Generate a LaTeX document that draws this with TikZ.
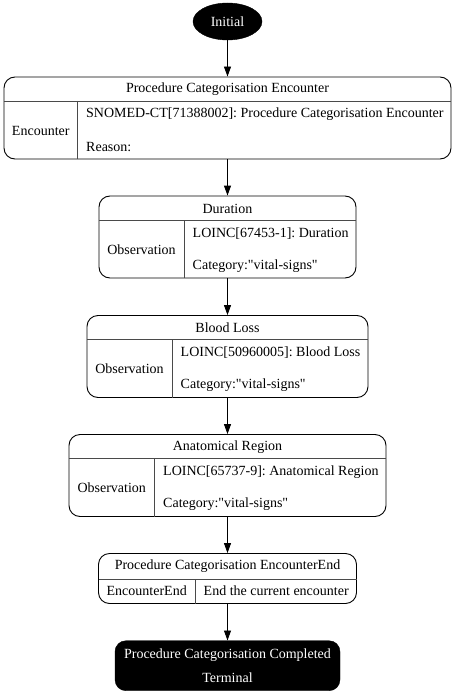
\documentclass[tikz,border=0pt]{standalone}
\usepackage{fontspec}
\setmainfont{Liberation Serif}
\usetikzlibrary{arrows.meta,shapes.geometric}
\definecolor{ink}{HTML}{000000}
\definecolor{rule}{HTML}{4A4A4A}
\frenchspacing
\tikzset{
  recframe/.style={draw=ink, line width=0.9pt, rounded corners=11bp, fill=white,
    inner sep=0pt, minimum height=82bp},
  cellrule/.style={draw=rule, line width=0.9pt},
  label/.style={inner sep=0pt, text=ink, font=\fontsize{14bp}{16bp}\selectfont},
  startnode/.style={ellipse, fill=ink, draw=ink, text=white, inner sep=0pt,
    minimum width=69bp, minimum height=37bp, font=\fontsize{14bp}{16bp}\selectfont},
  endnode/.style={rounded corners=11bp, fill=ink, draw=ink, text=white, align=center,
    inner sep=0pt, minimum width=225bp, minimum height=50bp,
    font=\fontsize{14bp}{24bp}\selectfont},
  edge/.style={-{Triangle[length=10bp,width=7bp]}, draw=ink, line width=0.9pt}
}
\newcommand{\vitalsigns}{Category:\textquotedbl vital-signs\textquotedbl}
% record box: name, left, right, top, divider, title, kind, row one, row two
\newcommand{\recbox}[9]{%
  \node[recframe, minimum width={#3bp-#2bp}] (#1) at ({(#2+#3)/2},#4+41) {};
  \draw[cellrule] (#2,#4+24) -- (#3,#4+24);
  \draw[cellrule] (#5,#4+24) -- (#5,#4+82);
  \node[label] (#1-title) at ({(#2+#3)/2},#4+12.5) {#6};
  \node[label] (#1-kind) at ({(#2+#5)/2},#4+53.5) {#7};
  \node[label, anchor=west] (#1-code) at (#5+8.5,#4+37.5) {#8};
  \node[label, anchor=west] (#1-info) at (#5+8.5,#4+70) {#9};
}

\begin{document}
\begin{tikzpicture}[x=1bp,y=-1bp]
  \useasboundingbox[fill=white] (0,0) rectangle (455,695);

  \node[startnode] (initial) at (227.5,21.5) {Initial};

  % Encounter and observations.
  \recbox{encounter}{4}{451}{77}{77.5}{Procedure Categorisation Encounter}{Encounter}
    {SNOMED-CT[71388002]: Procedure Categorisation Encounter}{Reason:}
  \recbox{duration}{99}{356}{196}{184}{Duration}{Observation}
    {LOINC[67453-1]: Duration}{\vitalsigns}
  \recbox{bloodloss}{87}{368}{315.5}{172}{Blood Loss}{Observation}
    {LOINC[50960005]: Blood Loss}{\vitalsigns}
  \recbox{region}{69}{386}{434.5}{154.5}{Anatomical Region}{Observation}
    {LOINC[65737-9]: Anatomical Region}{\vitalsigns}

  % Encounter end.
  \node[recframe, minimum width=258bp, minimum height=50bp] (encend) at (227.5,578.5) {};
  \draw[cellrule] (98.5,579.5) -- (356.5,579.5);
  \draw[cellrule] (195,579.5) -- (195,603.5);
  \node[label] (encend-title) at (227.5,566.5) {Procedure Categorisation EncounterEnd};
  \node[label] (encend-kind) at (146.7,591) {EncounterEnd};
  \node[label, anchor=west] (encend-info) at (203.5,591) {End the current encounter};

  \node[endnode] (terminal) at (227.5,665.7)
    {Procedure Categorisation Completed\\Terminal};

  \draw[edge] (initial.south) -- (encounter.north);
  \draw[edge] (encounter.south) -- (duration.north);
  \draw[edge] (duration.south) -- (bloodloss.north);
  \draw[edge] (bloodloss.south) -- (region.north);
  \draw[edge] (region.south) -- (encend.north);
  \draw[edge] (encend.south) -- (terminal.north);
\end{tikzpicture}
\end{document}
